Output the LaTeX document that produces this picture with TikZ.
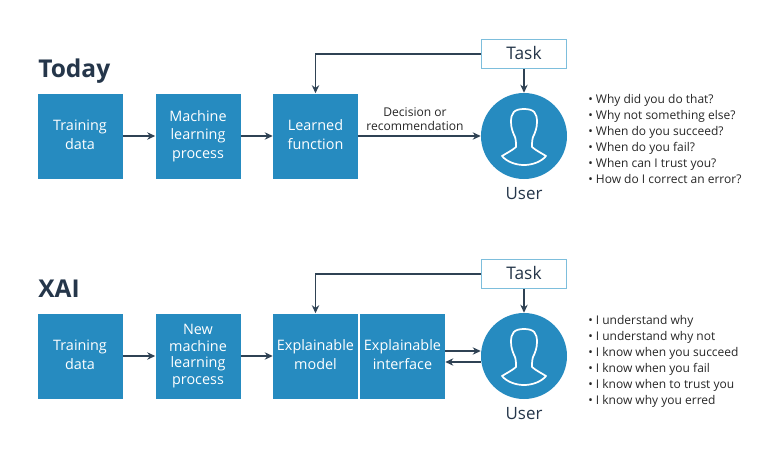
\documentclass[tikz,border=0pt]{standalone}
\usepackage{fontspec}
\setmainfont{Open Sans}
\usetikzlibrary{arrows.meta}
\definecolor{boxblue}{HTML}{268BC0}
\definecolor{darkline}{HTML}{2F4254}
\definecolor{taskedge}{HTML}{7DBEDC}
\definecolor{titleink}{HTML}{25364A}
\tikzset{
  flowbox/.style={rectangle,fill=boxblue,text=white,minimum size=63.75pt,inner sep=0pt,align=center,font=\fontsize{10.8}{13.8}\selectfont,execute at begin node={\rule{0pt}{10pt}},execute at end node={\rule[-2pt]{0pt}{2pt}}},
  taskbox/.style={rectangle,draw=taskedge,fill=white,line width=1.1pt,minimum width=64pt,minimum height=21.5pt,inner sep=0pt},
  tasktext/.style={text=titleink,font=\fontsize{13}{15}\selectfont},
  usercircle/.style={circle,fill=boxblue,minimum size=64.5pt,inner sep=0pt},
  usertext/.style={text=titleink,font=\fontsize{12.7}{15}\selectfont},
  heading/.style={text=titleink,anchor=base west,inner sep=0pt,font=\fontsize{18.4}{22}\bfseries\selectfont},
  flow/.style={draw=darkline,line width=1.2pt,-{Stealth[length=6pt,width=5.5pt]}},
  notes/.style={anchor=west,align=left,inner sep=0pt,text=black!85,font=\fontsize{9}{12}\selectfont},
  small/.style={align=center,text=black!85,font=\fontsize{9.05}{10.5}\selectfont},
  icon/.style={draw=white,line width=1.3pt,line join=round}
}
\begin{document}
\begin{tikzpicture}[x=0.75pt,y=-0.75pt]
        \useasboundingbox (0,0) rectangle (770,450);
        % today
        \draw (38,77) node[heading](today){Today};
        \draw (80,136) node[flowbox](data1){Training\\data};
        \draw (198,136) node[flowbox](proc1){Machine\\learning\\process};
        \draw (315.5,136) node[flowbox](func1){Learned\\function};
        \draw (524,54) node[taskbox](task1){};
        \draw (524,53) node[tasktext](tasktext1){Task};
        \draw (524,136) node[usercircle](user1){};
        \draw (524,193.5) node[usertext](name1){User};
        \draw (415,119) node[small](dec1){Decision or\\recommendation};
        \draw (588,139) node[notes](list1){• Why did you do that?\\• Why not something else?\\• When do you succeed?\\• When do you fail?\\• When can I trust you?\\• How do I correct an error?};
        \draw[flow] (data1) -- (proc1);
        \draw[flow] (proc1) -- (func1);
        \draw[flow] (func1) -- (user1);
        \draw[flow] (task1.west) -| (func1.north);
        \draw[flow] (task1) -- (user1);
        % xai
        \draw (38,297) node[heading](xai){XAI};
        \draw (80,356) node[flowbox](data2){Training\\data};
        \draw (198,356) node[flowbox,font=\fontsize{10.8}{12.6}\selectfont](proc2){New\\machine\\learning\\process};
        \draw (315.5,356) node[flowbox](model2){Explainable\\model};
        \draw (402.5,356) node[flowbox](face2){Explainable\\interface};
        \draw (524,274) node[taskbox](task2){};
        \draw (524,273) node[tasktext](tasktext2){Task};
        \draw (524,356) node[usercircle](user2){};
        \draw (524,413.5) node[usertext](name2){User};
        \draw (588,361) node[notes](list2){• I understand why\\• I understand why not\\• I know when you succeed\\• I know when you fail\\• I know when to trust you\\• I know why you erred};
        \draw[flow] (data2) -- (proc2);
        \draw[flow] (proc2) -- (model2);
        \draw[flow] (task2.west) -| (model2.north);
        \draw[flow] (task2) -- (user2);
        \draw[flow] ([yshift=3.75pt]face2.east) -- ([yshift=3.75pt]face2.east -| user2.west);
        \draw[flow] ([yshift=-4.5pt]face2.east -| user2.west) -- ([yshift=-4.5pt]face2.east);
        % person outline
        \foreach \u in {user1,user2}
          \draw[icon,shift={(\u)}] (0,-27) .. controls (-10,-27) and (-13,-23) .. (-13,-14)
            .. controls (-13,-8) and (-11,-3) .. (-9,1)
            .. controls (-8,4) and (-8,8) .. (-8,11)
            .. controls (-12,14.5) and (-18,17.5) .. (-22,20)
            .. controls (-17,26) and (-8,29) .. (0,29)
            .. controls (8,29) and (17,26) .. (22,20)
            .. controls (18,17.5) and (12,14.5) .. (8,11)
            .. controls (8,8) and (8,4) .. (9,1)
            .. controls (11,-3) and (13,-8) .. (13,-14)
            .. controls (13,-23) and (10,-27) .. (0,-27) -- cycle;
      \end{tikzpicture}
\end{document}
